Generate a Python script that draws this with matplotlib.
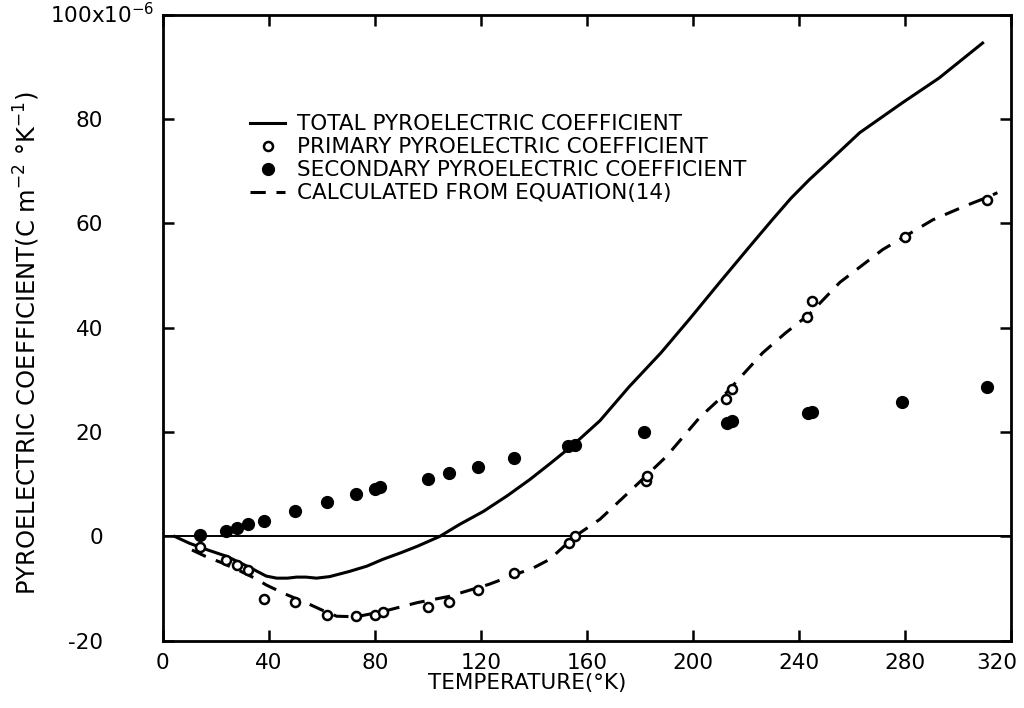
import matplotlib.pyplot as plt
from matplotlib.transforms import ScaledTranslation, blended_transform_factory
import numpy as np

# Total pyroelectric coefficient (solid curve)
total_T = [4.5, 10, 17, 24, 29, 33, 36, 39, 43, 47, 50.5, 54, 58, 63, 70.5, 77, 83, 90,
           96, 104.5, 112, 121, 130, 138.5, 146, 155, 165, 176, 188, 199, 210, 221.5,
           230, 237, 244, 250.6, 263, 279, 293, 309.4]
total_P = [0, -1.3, -2.6, -3.8, -5.0, -6.0, -6.8, -7.6, -8.0, -8.0, -7.8, -7.8, -8.0,
           -7.7, -6.7, -5.7, -4.4, -3.1, -1.9, 0, 2.3, 4.8, 7.8, 10.9, 13.9, 17.6, 22.2,
           28.7, 35.2, 41.8, 48.6, 55.6, 60.7, 64.8, 68.4, 71.5, 77.4, 83.1, 87.9, 94.6]

# Calculated from equation (14) (dashed curve)
calc_T = [11, 16, 22, 29, 35.5, 39, 46, 54, 60, 65.6, 73, 83, 96, 108, 123, 133, 139.6,
          146, 155.5, 165, 177, 190, 202.6, 212.8, 226.4, 235, 244, 255.5, 271.7,
          290.6, 303, 311, 315]
calc_P = [-2.6, -3.8, -5.0, -6.6, -8.2, -9.3, -11.0, -12.7, -14.1, -15.3, -15.4, -14.4,
          -12.7, -11.5, -9.2, -7.3, -6.1, -4.4, 0, 3.3, 9.0, 15.3, 22.8, 27.6, 35.2,
          39.0, 42.6, 48.7, 55.0, 60.7, 63.4, 65.0, 65.9]

# Primary pyroelectric coefficient (open circles)
prim_T = [14, 24, 28, 32, 38, 50, 62, 73, 80, 83, 100, 108, 119, 132.5, 153.2, 155.5,
          182.3, 182.6, 212.5, 214.7, 243, 245, 280, 311]
prim_P = [-2.0, -4.5, -5.5, -6.5, -12.0, -12.5, -15.0, -15.3, -15.0, -14.5, -13.5,
          -12.5, -10.2, -7.1, -1.2, 0.0, 10.7, 11.5, 26.4, 28.3, 42.0, 45.2, 57.5, 64.5]

# Secondary pyroelectric coefficient (filled circles)
sec_T = [14, 24, 28, 32, 38, 50, 62, 73, 80, 82, 100, 108, 119, 132.5, 153, 155.5,
         181.5, 213, 215, 243.5, 245, 279, 311]
sec_P = [0.3, 1.1, 1.6, 2.3, 3.0, 4.9, 6.6, 8.1, 9.1, 9.4, 11.1, 12.1, 13.3, 15.1,
         17.4, 17.6, 20.0, 21.8, 22.1, 23.6, 23.8, 25.7, 28.6]

x_ticks = [0, 40, 80, 120, 160, 200, 240, 280, 320]
y_ticks = [-20, 0, 20, 40, 60, 80, 100]
y_tick_labels = ['-20', '0', '20', '40', '60', '80', '']
y_top_label = r'100x10$^{-6}$'

plt.rcParams['font.family'] = ['DejaVu Sans']
plt.rcParams['mathtext.default'] = 'regular'

fig = plt.figure(figsize=(10.24, 7.08), dpi=100)
ax = fig.add_axes([0.159, 0.095, 0.828, 0.884])

ax.axhline(0, color='black', lw=1.4, zorder=1)
ax.plot(total_T, total_P, color='black', lw=2.2, label='TOTAL PYROELECTRIC COEFFICIENT')
ax.plot(prim_T, prim_P, 'o', ms=6.5, mfc='white', mec='black', mew=1.8,
        ls='none', label='PRIMARY PYROELECTRIC COEFFICIENT', zorder=4)
ax.plot(sec_T, sec_P, 'o', ms=8.5, color='black', ls='none',
        label='SECONDARY PYROELECTRIC COEFFICIENT', zorder=4)
ax.plot(calc_T, calc_P, color='black', lw=2.2, ls=(0, (5, 3.5)),
        label='CALCULATED FROM EQUATION(14)', zorder=3)

ax.set_xlim(0, 320)
ax.set_ylim(-20, 100)
ax.set_xticks(x_ticks)
ax.set_yticks(y_ticks)
ax.set_yticklabels(y_tick_labels)
ax.tick_params(direction='in', length=8, width=1.8, top=True, right=True, labelsize=15.5)
ax.tick_params(axis='x', pad=9)
ax.tick_params(axis='y', pad=43)
for lab in ax.get_xticklabels() + ax.get_yticklabels():
    lab.set_fontweight('medium')
# the last x label sits a little left of its tick in the original
last = ax.get_xticklabels()[-1]
last.set_transform(last.get_transform() + ScaledTranslation(-10 / 72, 0, fig.dpi_scale_trans))
for s in ax.spines.values():
    s.set_linewidth(2)

ax.text(-0.01, 100, y_top_label, transform=blended_transform_factory(ax.transAxes, ax.transData),
        ha='right', va='center', fontsize=15.5, fontweight='medium')

ax.set_xlabel('TEMPERATURE(°K)', fontsize=15.5, fontweight='medium')
ax.xaxis.set_label_coords(0.43, -0.052)
ax.set_ylabel(r'PYROELECTRIC COEFFICIENT(C m$^{-2}$ °K$^{-1}$)', fontsize=17.5, fontweight='medium')
ax.yaxis.set_label_coords(-0.143, 0.475)

ax.legend(loc='upper left', bbox_to_anchor=(0.093, 0.855), frameon=False,
          prop={'weight': 'medium', 'size': 15.5},
          handlelength=1.6, handletextpad=0.56, labelspacing=0.14, borderaxespad=0)

fig.savefig('out.png', dpi=100)
